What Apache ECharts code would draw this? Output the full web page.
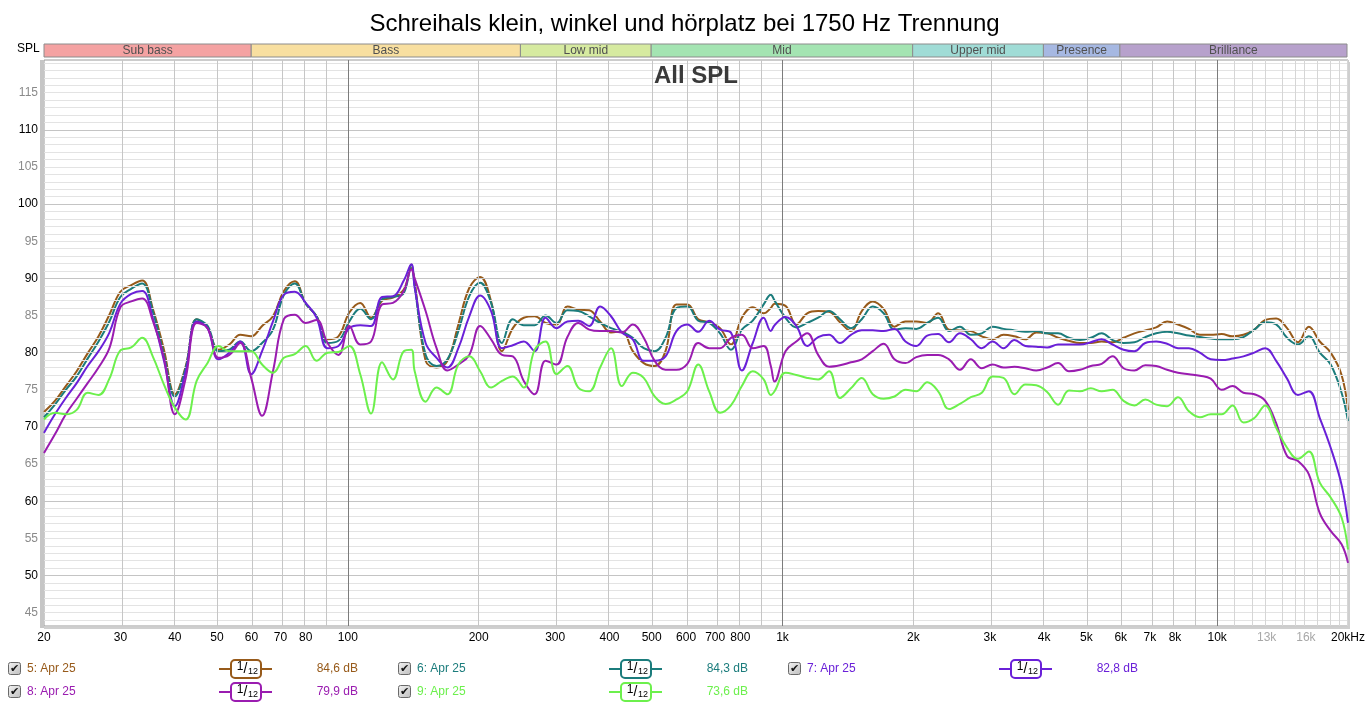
<!DOCTYPE html>
<html>
<head>
<meta charset="utf-8">
<title>All SPL</title>
<script src="https://cdn.jsdelivr.net/npm/echarts@6/dist/echarts.min.js"></script>
<style>
  html, body { margin: 0; padding: 0; background: #fff; }
  #chart { width: 1369px; height: 708px; }
</style>
</head>
<body>
<div id="chart"></div>
<script>
/* Messpunkte, 1/12 Oktave (plus zwei Spitzen) */
var freqHz = [
  20, 21.19, 22.45, 23.78, 25.2, 26.7, 28.28, 29.97, 31.75, 33.64, 35.64, 37.76,
  40, 42.38, 44.9, 47.57, 50.4, 53.39, 56.57, 59.93, 63.5, 67.27, 71.27, 75.51,
  80, 84.76, 89.8, 95.14, 100.8, 106.8, 113.1, 119.9, 127, 134.5, 140, 142.5, 151,
  160, 169.5, 179.6, 190.3, 201.6, 213.6, 226.3, 239.7, 254, 269.1, 285.1, 302.1,
  320, 339, 359.2, 380.6, 403.2, 427.1, 452.5, 479.5, 508, 538.2, 570.2, 604.1,
  640, 678.1, 718.4, 761.1, 806.3, 854.3, 905.1, 940, 958.9, 1016, 1076, 1140, 1208,
  1280, 1356, 1437, 1522, 1613, 1709, 1810, 1918, 2032, 2153, 2281, 2416,
  2560, 2712, 2874, 3044, 3225, 3417, 3620, 3836, 4064, 4305, 4561, 4833,
  5120, 5424, 5747, 6089, 6451, 6834, 7241, 7671, 8127, 8611, 9123, 9665,
  10240, 10849, 11494, 12177, 12902, 13669, 14482, 15343, 16255, 17222, 18246, 19331, 20000
]

var spl5 = [
  72.0, 73.5, 75.5, 77.5, 79.9, 82.2, 85.1, 88.2, 89.1, 89.7, 85.8, 80.4,
  74.4, 78.2, 84.5, 83.3, 80.4, 81.1, 82.4, 82.2, 83.6, 84.9, 88.3, 89.6,
  86.6, 84.9, 81.8, 82.2, 85.4, 86.7, 84.7, 87.0, 87.4, 88.5, 91.4, 89.6, 78.9,
  78.0, 78.9, 83.8, 88.7, 90.2, 86.9, 80.2, 83.3, 84.7, 84.9, 84.0, 83.8,
  86.2, 85.8, 85.7, 84.2, 82.7, 82.9, 80.2, 78.6, 78.2, 80.2, 86.5, 86.5,
  84.5, 84.1, 83.3, 81.1, 84.7, 86.1, 85.3, 86.0, 86.6, 86.3, 83.8, 85.3, 85.6,
  85.5, 84.1, 82.9, 85.6, 86.9, 85.9, 83.5, 84.2, 84.2, 84.0, 85.3, 83.1,
  83.0, 82.9, 82.2, 81.8, 82.4, 82.2, 81.8, 82.7, 82.6, 82.0, 81.6, 81.3,
  81.3, 81.5, 81.4, 82.0, 82.6, 83.0, 83.4, 84.2, 83.8, 83.2, 82.4, 82.4,
  82.5, 82.2, 82.4, 83.1, 84.4, 84.6, 83.3, 81.4, 83.5, 81.5, 80.0, 77.0, 72.3
]
var spl6 = [
  71.3, 73.0, 75.0, 76.8, 79.2, 81.5, 84.2, 87.5, 88.6, 89.3, 85.4, 79.7,
  74.1, 78.0, 84.5, 83.6, 80.2, 80.4, 81.5, 80.2, 81.3, 83.1, 87.8, 89.3,
  86.6, 84.9, 81.3, 81.6, 84.2, 85.9, 84.5, 87.2, 87.5, 88.0, 91.9, 88.9, 79.7,
  78.2, 79.1, 82.9, 87.6, 89.4, 86.7, 81.3, 84.5, 83.7, 83.7, 85.0, 84.0,
  85.7, 85.6, 84.9, 84.0, 83.3, 82.8, 82.0, 80.6, 80.2, 82.0, 86.0, 86.2,
  84.3, 84.0, 82.6, 80.4, 83.1, 84.3, 86.5, 87.8, 87.0, 84.7, 83.4, 84.0, 84.7,
  85.6, 84.5, 83.3, 84.5, 86.2, 85.3, 83.1, 83.3, 83.2, 84.0, 84.7, 82.9,
  83.5, 82.4, 82.6, 83.5, 83.2, 83.0, 82.8, 82.9, 82.6, 82.6, 82.0, 81.7,
  82.0, 82.6, 81.7, 81.3, 81.4, 82.1, 82.6, 82.8, 82.6, 82.3, 82.1, 81.9,
  81.8, 81.8, 82.1, 83.1, 84.1, 83.8, 82.0, 81.1, 82.2, 80.0, 78.4, 74.6, 70.8
]
var spl7 = [
  69.2, 71.7, 73.9, 75.9, 78.2, 80.2, 82.7, 86.6, 87.9, 88.3, 84.5, 78.9,
  72.8, 77.5, 84.2, 83.3, 79.1, 80.0, 81.5, 77.1, 80.2, 84.2, 87.8, 88.2,
  86.7, 84.7, 80.6, 80.9, 83.3, 83.7, 83.6, 87.5, 87.6, 89.7, 91.9, 88.8, 81.3,
  79.3, 78.0, 80.6, 84.9, 87.7, 85.6, 80.6, 81.0, 81.5, 80.2, 84.7, 83.3,
  84.2, 84.3, 83.6, 86.2, 84.9, 82.7, 81.8, 78.9, 78.9, 79.5, 82.9, 83.8,
  82.8, 84.3, 83.1, 82.7, 77.6, 81.3, 84.7, 82.9, 83.7, 84.8, 83.6, 80.9, 82.1,
  82.4, 81.3, 82.4, 83.0, 83.0, 82.9, 83.2, 81.5, 80.9, 82.3, 82.5, 81.4,
  82.6, 81.8, 80.6, 81.5, 80.6, 81.7, 80.9, 80.8, 80.7, 81.1, 81.1, 81.1,
  81.4, 81.8, 81.1, 80.4, 80.2, 81.3, 81.5, 81.2, 80.6, 80.6, 80.0, 79.1,
  79.0, 79.2, 79.5, 80.0, 80.6, 78.9, 76.5, 74.3, 74.8, 71.2, 67.2, 62.2, 57.1
]
var spl8 = [
  66.5, 69.0, 71.7, 73.8, 75.9, 78.0, 80.6, 86.1, 86.9, 87.3, 84.2, 79.3,
  71.7, 76.6, 84.0, 83.3, 79.3, 79.7, 81.3, 76.6, 71.5, 77.5, 84.5, 85.1,
  84.0, 84.4, 81.3, 79.7, 83.6, 81.1, 81.5, 86.5, 86.7, 88.3, 91.2, 90.0, 85.6,
  80.6, 77.6, 78.4, 79.7, 83.6, 81.8, 79.7, 79.5, 76.2, 74.4, 78.9, 78.4,
  82.1, 84.0, 83.1, 82.9, 82.9, 82.7, 83.8, 82.0, 78.9, 77.7, 77.7, 78.5,
  81.3, 80.6, 80.6, 82.0, 82.4, 80.6, 80.9, 78.2, 76.1, 80.2, 81.5, 82.6, 79.7,
  78.1, 78.3, 78.7, 79.1, 80.2, 81.2, 79.1, 78.6, 79.4, 79.7, 79.7, 79.1,
  77.7, 79.1, 77.9, 78.4, 78.0, 78.1, 77.9, 77.6, 78.0, 78.6, 77.5, 77.7,
  78.2, 78.5, 79.5, 77.9, 77.6, 78.3, 78.2, 77.7, 77.3, 77.1, 76.9, 76.5,
  75.0, 75.5, 74.6, 74.4, 73.5, 70.5, 66.1, 65.4, 63.6, 58.4, 56.0, 54.2, 51.7
]
var spl9 = [
  71.0, 71.9, 71.7, 72.3, 74.6, 74.3, 76.5, 80.3, 80.7, 82.0, 79.4, 75.7,
  72.6, 71.0, 76.2, 78.6, 80.9, 80.2, 80.2, 80.2, 78.4, 77.3, 79.3, 79.8,
  80.9, 78.9, 80.0, 80.1, 80.9, 77.1, 71.8, 78.7, 76.4, 80.2, 80.4, 77.5, 73.4,
  75.3, 74.4, 78.4, 79.5, 77.5, 75.3, 76.2, 76.8, 75.3, 80.4, 81.5, 77.1,
  78.2, 75.3, 74.8, 78.0, 80.6, 75.5, 77.3, 76.6, 74.1, 73.1, 73.7, 74.8,
  78.4, 74.8, 71.9, 72.9, 75.5, 77.5, 76.4, 74.3, 74.8, 77.3, 77.0, 76.6, 76.4,
  77.5, 73.9, 75.2, 76.6, 74.4, 73.8, 74.1, 75.0, 74.8, 76.0, 74.8, 72.4,
  73.1, 74.0, 74.6, 76.8, 76.6, 74.4, 75.7, 75.6, 74.7, 73.0, 74.9, 74.8,
  75.2, 74.8, 75.0, 73.5, 72.9, 73.7, 73.0, 72.8, 74.0, 72.1, 71.3, 71.7,
  71.7, 72.9, 70.6, 71.2, 72.9, 69.9, 67.2, 65.7, 66.7, 62.5, 60.5, 57.8, 53.5
]

var traceNames = ['5: Apr 25', '6: Apr 25', '7: Apr 25', '8: Apr 25', '9: Apr 25']
var traceLevels = ['84,6 dB', '84,3 dB', '82,8 dB', '79,9 dB', '73,6 dB']

var yTicks = [45, 50, 55, 60, 65, 70, 75, 80, 85, 90, 95, 100, 105, 110, 115]
var xTicks = [20, 30, 40, 50, 60, 70, 80, 100, 200, 300, 400, 500, 600, 700, 800,
  1000, 2000, 3000, 4000, 5000, 6000, 7000, 8000, 10000, 13000, 16000, 20000]
var xTickLabels = ['20', '30', '40', '50', '60', '70', '80', '100', '200', '300', '400', '500', '600', '700', '800',
  '1k', '2k', '3k', '4k', '5k', '6k', '7k', '8k', '10k', '13k', '16k', '20kHz']
var minorTicks = [13000, 16000]

var bandNames = ['Sub bass', 'Bass', 'Low mid', 'Mid', 'Upper mid', 'Presence', 'Brilliance']
var bandEdges = [20, 60, 250, 500, 2000, 4000, 6000, 20000]

/* Farben */
var traceColors = ['#975a1a', '#1b7c7c', '#6a20d8', '#9a1cb0', '#6cf04c']
var bandColors = ['#f4a2a2', '#f8dfa0', '#d6eaa0', '#a4e4b2', '#a0dcd6', '#a6b8e2', '#b7a1cc']
var FONT = '"Liberation Sans", Arial, sans-serif'

var lg = function (v) { return Math.log10(v) }
var X_MIN = lg(20), X_MAX = lg(20000)

window.onload = function () {
  drawChart()
}

/**
 * Frequenzgang
 */
function drawChart () {
  var box = document.getElementById('chart')
  var myCharts = echarts.init(box)

  var labelOf = {}
  xTicks.forEach(function (f, i) { labelOf[f] = xTickLabels[i] })

  /* Rasterlinien */
  var gridLines = []
  for (var d = 44; d <= 119; d++) {
    gridLines.push({ yAxis: d, lineStyle: { color: d % 10 === 0 ? '#c4c4c4' : '#e3e3e3', width: 1, type: 'solid' } })
  }
  var decades = [10, 100, 1000, 10000]
  decades.forEach(function (dec) {
    for (var m = 1; m <= 9; m++) {
      var f = dec * m
      if (f <= 20 || f > 20000) continue
      var col = m === 1 ? '#7c7c7c' : (f > 10000 ? '#d6d6d6' : '#c6c6c6')
      gridLines.push({ xAxis: lg(f), lineStyle: { color: col, width: 1, type: 'solid' } })
    }
  })
  for (var k = 11000; k < 20000; k += 1000) {
    gridLines.push({ xAxis: lg(k), lineStyle: { color: '#d6d6d6', width: 1, type: 'solid' } })
  }

  var series = [{
    name: 'grid',
    type: 'line',
    z: 1,
    silent: true,
    data: [[X_MIN, 0]],
    showSymbol: false,
    lineStyle: { opacity: 0 },
    markLine: {
      silent: true,
      symbol: ['none', 'none'],
      label: { show: false },
      animation: false,
      data: gridLines
    }
  }, {
    name: 'bands',
    type: 'line',
    xAxisIndex: 1,
    yAxisIndex: 1,
    silent: true,
    data: [[X_MIN, -1]],
    showSymbol: false,
    lineStyle: { opacity: 0 },
    markArea: {
      silent: true,
      animation: false,
      label: { show: true, position: 'inside', color: '#505050', fontSize: 12, fontFamily: FONT },
      data: bandNames.map(function (name, i) {
        return [{
          name: name,
          xAxis: lg(bandEdges[i]),
          itemStyle: { color: bandColors[i], borderColor: '#8c8c8c', borderWidth: 1 }
        }, { xAxis: lg(bandEdges[i + 1]) }]
      })
    }
  }]

  var splData = [spl5, spl6, spl7, spl8, spl9]
  splData.forEach(function (arr, i) {
    series.push({
      name: traceNames[i],
      type: 'line',
      z: 3 + i,
      smooth: 0.4,
      showSymbol: false,
      clip: true,
      lineStyle: { color: traceColors[i], width: 2 },
      data: freqHz.map(function (f, j) { return [lg(f), arr[j]] })
    })
  })

  /* Legende unten */
  var graphics = [
    { type: 'text', left: 17, top: 43, style: { text: 'SPL', font: '12px ' + FONT, fill: '#000' } },
    { type: 'rect', shape: { x: 40, y: 60, width: 4, height: 568 }, style: { fill: '#c6c6c6' } },
    { type: 'rect', shape: { x: 1348, y: 62, width: 2, height: 566 }, style: { fill: '#cfcfcf' } },
    { type: 'rect', shape: { x: 44, y: 627, width: 1306, height: 2 }, style: { fill: '#cfcfcf' } },
    { type: 'text', x: 696, y: 76, z: 20,
      style: { text: 'All SPL', font: 'bold 24px ' + FONT, fill: '#3a3a3a', textAlign: 'center', textVerticalAlign: 'middle' } }
  ]
  traceNames.forEach(function (name, i) {
    var row = i < 3 ? 0 : 1
    var col = i < 3 ? i : i - 3
    var off = col * 390
    var cy = row === 0 ? 669 : 692
    var c = traceColors[i]
    graphics.push(
      { type: 'rect', shape: { x: 8.5 + off, y: cy - 6.5, width: 12, height: 12, r: 2 },
        style: { fill: new echarts.graphic.LinearGradient(0, 0, 1, 1, [{ offset: 0, color: '#f4f4f4' }, { offset: 1, color: '#bdbdbd' }]), stroke: '#6a6a6a', lineWidth: 1 } },
      { type: 'text', x: 14.5 + off, y: cy, style: { text: '\u2714', font: 'bold 11px "DejaVu Sans", sans-serif', fill: '#111', textAlign: 'center', textVerticalAlign: 'middle' } },
      { type: 'text', x: 27 + off, y: cy, style: { text: name, font: '12px ' + FONT, fill: c, textVerticalAlign: 'middle' } },
      { type: 'line', shape: { x1: 219 + off, y1: cy, x2: 272 + off, y2: cy }, style: { stroke: c, lineWidth: 2 } },
      { type: 'rect', shape: { x: 231 + off, y: cy - 9, width: 30, height: 18, r: 4 }, style: { fill: '#fff', stroke: c, lineWidth: 2 } },
      { type: 'text', x: 240 + off, y: cy - 2, style: { text: '1', font: '12px ' + FONT, fill: '#000', textAlign: 'center', textVerticalAlign: 'middle' } },
      { type: 'text', x: 245.5 + off, y: cy, style: { text: '/', font: '14px ' + FONT, fill: '#000', textAlign: 'center', textVerticalAlign: 'middle' } },
      { type: 'text', x: 253 + off, y: cy + 3, style: { text: '12', font: '9px ' + FONT, fill: '#000', textAlign: 'center', textVerticalAlign: 'middle' } },
      { type: 'text', x: 358 + off, y: cy, style: { text: traceLevels[i], font: '12px ' + FONT, fill: c, textAlign: 'right', textVerticalAlign: 'middle' } }
    )
  })

  var options = {
    animation: false,
    backgroundColor: '#fff',
    title: {
      text: 'Schreihals klein, winkel und hörplatz bei 1750 Hz Trennung',
      left: 'center',
      top: 7,
      textStyle: { fontSize: 24, fontWeight: 'normal', color: '#000', fontFamily: FONT }
    },
    grid: [
      { left: 44, right: 21, top: 60, bottom: 82, show: true, borderColor: '#9a9a9a', borderWidth: 1, backgroundColor: '#fff', outerBoundsMode: 'none' },
      { left: 44, right: 22, top: 44, height: 13, outerBoundsMode: 'none' }
    ],
    xAxis: [{
      type: 'value',
      gridIndex: 0,
      min: X_MIN,
      max: X_MAX,
      axisLine: { show: false },
      axisTick: { show: false },
      splitLine: { show: false },
      axisLabel: {
        customValues: xTicks.map(lg),
        margin: 6,
        fontSize: 12,
        fontFamily: FONT,
        color: '#000',
        formatter: function (v) {
          var f = Math.round(Math.pow(10, v) / 10) * 10
          var t = labelOf[f] || ''
          return minorTicks.indexOf(f) >= 0 ? '{g|' + t + '}' : t
        },
        rich: { g: { color: '#a8a8a8', fontSize: 12, fontFamily: FONT } }
      }
    }, {
      type: 'value',
      gridIndex: 1,
      min: X_MIN,
      max: X_MAX,
      show: false
    }],
    yAxis: [{
      type: 'value',
      gridIndex: 0,
      min: 43.2,
      max: 119.4,
      axisLine: { show: false },
      axisTick: { show: false },
      splitLine: { show: false },
      axisLabel: {
        customValues: yTicks,
        margin: 6,
        fontSize: 12,
        fontFamily: FONT,
        formatter: function (v) {
          return v % 10 === 0 ? '{b|' + v + '}' : '{g|' + v + '}'
        },
        rich: {
          b: { color: '#000', fontSize: 12, fontFamily: FONT },
          g: { color: '#8a8a8a', fontSize: 12, fontFamily: FONT }
        }
      }
    }, {
      type: 'value',
      gridIndex: 1,
      min: 0,
      max: 1,
      show: false
    }],
    graphic: graphics,
    series: series
  }
  myCharts.setOption(options)
}
</script>
</body>
</html>
